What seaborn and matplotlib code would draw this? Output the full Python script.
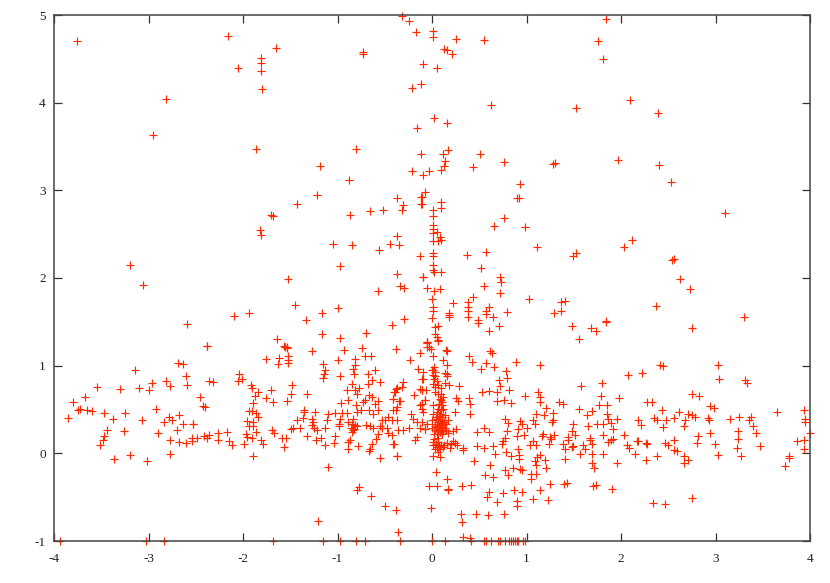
import pandas as pd
import matplotlib
matplotlib.use('Agg')
import matplotlib.pyplot as plt
import seaborn as sns

# valores, por regiao
top_points = [(-3.76,4.70),(-2.16,4.76),(-2.05,4.39),(-1.81,4.51),(-1.81,4.45),(-1.81,4.36),(-1.80,4.16),(-1.65,4.62),
    (-0.73,4.58),(-0.73,4.55),(-0.32,4.99),(-0.24,4.93),(-0.17,4.81),(0.01,4.82),(0.01,4.75),(0.25,4.73),(0.55,4.71),
    (0.13,4.61),(0.16,4.60),(0.21,4.55),(-0.10,4.44),(0.05,4.40),(-0.21,4.17),(-0.12,4.21),(1.84,4.95),(1.76,4.70),
    (1.81,4.50),(2.10,4.03),(2.39,3.88),(1.52,3.94),(0.62,3.97),(-2.81,4.04),(-2.95,3.63),(-1.86,3.47),(-0.80,3.47),
    (-0.16,3.71),(0.02,3.82),(0.16,3.77),(-1.19,3.28),(-0.88,3.12),(-0.12,3.41),(0.12,3.42),(0.17,3.46),(0.51,3.42),
    (0.76,3.32),(1.30,3.31),(1.28,3.30),(1.97,3.35),(2.40,3.29),(2.53,3.09),(0.93,3.07),(0.92,2.91),(-0.21,3.22),
    (-0.10,3.18),(-0.03,3.22),(0.10,3.23),(0.13,3.28),(0.14,3.34),(0.43,3.27),(3.10,2.74),(2.54,2.21),(2.56,2.22),
    (2.62,1.99),(2.73,1.87),(2.37,1.68),(2.75,1.43),(3.30,1.56),(1.84,1.51),(-3.20,2.15),(-3.06,1.92),(-2.59,1.47)]

upper_left = [(-1.213,2.95),(-1.429,2.846),(-1.704,2.717),(-1.679,2.705),(-1.82,2.553),(-1.813,2.496),(-0.871,2.713),
    (-0.66,2.766),(-0.515,2.778),(-0.374,2.907),(-0.31,2.83),(-0.32,2.78),(-0.12,2.926),(-0.12,2.842),(-0.074,2.983),
    (-0.374,2.48),(-1.044,2.393),(-0.85,2.382),(-0.441,2.389),(-0.349,2.374),(-0.561,2.317),(-0.127,2.249),(-0.973,2.134),
    (-0.374,2.05),(-0.10,2.013),(-1.524,1.99),(-0.339,1.91),(-0.296,1.887),(-0.056,1.891),(-0.575,1.857),(-1.446,1.693),
    (-0.998,1.659),(-2.10,1.567),(-1.94,1.605),(-1.333,1.518),(-1.16,1.602),(-0.296,1.537),(-0.42,1.461),(-0.70,1.373),
    (-1.16,1.362),(-0.977,1.32),(-1.64,1.30),(-1.563,1.22),(-1.53,1.214),(-2.377,1.22),(-0.056,1.27),(-0.056,1.21)]

upper_right = [(0.896,2.907),(0.765,2.69),(0.656,2.591),(0.981,2.583),(1.108,2.355),(2.028,2.355),(2.12,2.431),(1.524,2.29),
    (1.492,2.249),(0.367,2.268),(0.568,2.298),(0.518,2.11),(0.723,2.013),(0.727,1.955),(0.55,1.91),(0.72,1.834),(1.026,1.762),
    (0.437,1.784),(0.607,1.674),(0.219,1.716),(0.384,1.723),(0.384,1.67),(0.384,1.624),(0.377,1.556),(0.183,1.605),(0.183,1.583),
    (0.183,1.556),(0.568,1.624),(0.568,1.594),(0.645,1.556),(0.797,1.61),(0.487,1.526),(0.487,1.488),(0.6,1.40),(0.712,1.45),
    (1.362,1.727),(1.407,1.735),(1.287,1.605),(1.362,1.625),(1.481,1.45),(1.552,1.301),(1.686,1.43),(1.732,1.396),(1.838,1.495),
    (0.092,2.869),(0.092,2.804),(0.014,2.774),(0.014,2.705),(-0.11,2.926),(-0.11,2.842),(0.014,2.6),(0.014,2.564),(0.014,2.515),
    (0.05,2.526),(0.085,2.47),(0.014,2.424),(0.067,2.424),(0.092,2.431),(0.014,2.29),(0.014,2.249),(0.014,2.146),(0.014,2.096),
    (0.02,2.07),(0.092,2.07),(-0.099,2.013),(0.085,1.88),(0.02,1.85),(-0.004,1.758),(0.007,1.67),(0.007,1.624),(-0.004,1.548),
    (0.032,1.442),(0.067,1.45),(0.032,1.358),(0.05,1.328),(0.067,1.29),(-0.05,1.27),(-0.028,1.214),(0.148,1.183)]

far_left = [(-2.377,1.22),(-2.69,1.03),(-2.63,1.02),(-3.146,0.95),(-2.60,0.88),(-3.54,0.753),(-3.30,0.734),(-3.10,0.742),
    (-2.96,0.80),(-3.00,0.72),(-2.81,0.82),(-2.77,0.77),(-2.59,0.78),(-2.36,0.83),(-2.32,0.81),(-2.04,0.90),(-2.05,0.83),
    (-2.01,0.845),(-3.67,0.647),(-3.80,0.58),(-2.45,0.643),(-2.42,0.54),(-2.40,0.533),(-3.72,0.51),(-3.75,0.495),(-3.65,0.50),
    (-3.60,0.483),(-3.47,0.46),(-3.25,0.457),(-2.92,0.51),(-3.85,0.40),(-3.375,0.39),(-3.065,0.377),(-2.78,0.415),(-2.68,0.44),
    (-2.836,0.354),(-2.75,0.377),(-2.64,0.33),(-2.525,0.34),(-2.525,0.33),(-2.70,0.27),(-3.44,0.27),(-3.26,0.26),(-3.47,0.194),
    (-3.48,0.156),(-3.51,0.10),(-2.90,0.232),(-2.77,0.156),(-2.68,0.13),(-2.60,0.118),(-2.536,0.137),(-2.54,0.175),(-2.486,0.18),
    (-2.41,0.198),(-2.356,0.206),(-2.38,0.18),(-2.26,0.228),(-2.26,0.156),(-2.17,0.243),(-2.15,0.137),(-2.12,0.09),(-1.99,0.103),
    (-3.36,-0.07),(-3.20,-0.02),(-3.02,-0.084),(-2.77,-0.008)]

mid_left = [(-1.555,1.21),(-1.53,1.206),(-1.27,1.17),(-0.93,1.176),(-0.737,1.206),(-0.385,1.187),(-1.753,1.08),(-1.62,1.09),
    (-1.63,1.02),(-1.527,1.11),(-1.527,1.07),(-1.527,1.03),(-0.709,1.11),(-0.649,1.107),(-0.81,1.08),(-0.99,1.07),(-1.153,1.016),
    (-1.13,0.948),(-1.14,0.91),(-1.15,0.864),(-0.815,1.005),(-0.84,0.967),(-0.607,0.955),(-0.97,0.887),(-0.83,0.90),(-0.674,0.90),
    (-0.64,0.833),(-0.55,0.814),(-0.674,0.795),(-1.919,0.776),(-1.90,0.75),(-1.485,0.78),(-1.707,0.727),(-1.838,0.70),(-1.873,0.65),
    (-1.76,0.635),(-1.49,0.674),(-1.326,0.677),(-1.686,0.582),(-1.53,0.60),(-1.898,0.575),(-0.843,0.788),(-0.90,0.72),(-0.815,0.727),
    (-0.776,0.75),(-0.797,0.68),(-0.885,0.613),(-0.966,0.575),(-0.667,0.67),(-0.64,0.643),(-0.727,0.586),(-0.713,0.613),(-0.575,0.594),
    (-0.60,0.567),(-0.39,0.70),(-0.374,0.746),(-0.41,0.624),(-0.34,0.60),(-0.374,0.53),(-0.41,0.50),(-0.808,0.548),(-0.755,0.50),
    (-0.797,0.468),(-0.667,0.49),(-0.575,0.50),(-0.62,0.445),(-0.90,0.46),(-0.95,0.46),(-1.097,0.453),(-1.026,0.46),(-1.238,0.468),
    (-1.35,0.50),(-1.35,0.472),(-1.908,0.483),(-1.933,0.48),(-1.838,0.42),(-1.862,0.46),(-1.96,0.37),(-1.89,0.358),(-1.937,0.308),
    (-1.89,0.308),(-1.866,0.244),(-1.972,0.225),(-1.954,0.186),(-1.908,0.175),(-1.813,0.156),(-1.792,0.11),(-1.898,-0.034),
    (-1.69,0.263),(-1.672,0.232),(-1.59,0.18),(-1.545,0.17),(-1.566,0.072),(-1.467,0.285),(-1.495,0.278),(-1.397,0.293),(-1.425,0.384),
    (-1.36,0.407),(-1.273,0.396),(-1.263,0.358),(-1.273,0.32),(-1.245,0.293),(-1.213,0.263),(-1.115,0.377),(-1.133,0.293),(-1.319,0.194),
    (-1.231,0.148),(-1.178,0.18),(-1.026,0.194),(-1.033,0.118),(-1.129,0.09),(-0.98,0.34),(-0.988,0.308),(-0.973,0.396),(-0.885,0.358),
    (-0.832,0.396),(-0.85,0.34),(-0.815,0.32),(-0.86,0.293),(-0.832,0.27),(-0.85,0.244),(-0.825,0.28),(-0.797,0.308),(-0.70,0.32),
    (-0.656,0.308),(-0.62,0.293),(-0.55,0.308),(-0.533,0.384),(-0.497,0.377),(-0.462,0.415),(-0.427,0.384),(-0.374,0.377),(-0.533,0.293),
    (-0.48,0.293),(-0.462,0.232),(-0.427,0.206),(-0.568,0.225),(-0.593,0.168),(-0.41,0.11),(-0.868,0.148),(-0.885,0.13),(-0.889,0.053),
    (-0.78,0.084),(-0.656,0.053),(-0.663,0.023),(-0.638,0.103),(-0.55,-0.057),(-0.374,-0.03),(-1.10,-0.16),(-0.776,-0.384),(-0.794,-0.42),
    (-0.646,-0.49),(-0.494,-0.597),(-0.377,-0.647),(-1.21,-0.77),(-0.356,-0.894)]

near_center = [(-0.233,1.06),(-0.145,0.966),(-0.11,0.852),(-0.19,0.662),(-0.127,0.738),(-0.11,0.72),(-0.064,0.72),(-0.075,0.605),
    (-0.127,0.548),(-0.11,0.51),(-0.226,0.445),(-0.205,0.396),(-0.163,0.358),(-0.24,0.293),(-0.127,0.293),(-0.075,0.282),(-0.156,0.187),
    (-0.18,0.156),(-0.304,0.814),(-0.32,0.757),(-0.382,0.738),(-0.40,0.70),(-0.41,0.624),(-0.346,0.594),(-0.382,0.49),(-0.357,0.263),
    (-0.31,0.27),(-0.40,0.11),(-0.367,-0.03)]

core = [(-0.05,1.26),(-0.01,1.195),(0.067,1.28),(0.155,1.164),(-0.127,1.145),(0.014,1.107),(0.12,1.07),(0.155,1.005),(0.02,0.986),
    (-0.003,0.948),(0.032,0.93),(0.014,0.89),(0.155,0.91),(0.138,0.921),(0.162,0.879),(-0.099,0.93),(-0.092,0.852),(0.02,0.852),
    (0.014,0.795),(0.032,0.757),(0.138,0.803),(0.18,0.776),(-0.11,0.727),(0.032,0.70),(0.067,0.681),(0.12,0.643),(0.092,0.605),
    (-0.074,0.605),(-0.11,0.567),(0.014,0.548),(0.102,0.548),(0.067,0.51),(0.12,0.51),(-0.092,0.472),(0.014,0.453),(0.085,0.453),
    (0.138,0.434),(0.05,0.396),(0.102,0.384),(0.173,0.377),(-0.004,0.377),(-0.11,0.358),(-0.056,0.339),(0.032,0.339),(0.067,0.339),
    (0.085,0.32),(0.12,0.339),(0.102,0.293),(0.067,0.282),(0.138,0.293),(0.032,0.27),(0.085,0.255),(0.12,0.255),(0.173,0.232),
    (0.05,0.225),(0.102,0.225),(-0.074,0.282),(0.014,0.13),(0.067,0.13),(0.014,0.09),(0.05,0.072),(0.085,0.053),(0.12,0.072),
    (0.19,0.065),(0.243,0.118),(0.261,0.09),(0.325,0.065),(0.332,0.034),(0.014,-0.034),(0.085,-0.042),(0.067,0.015),
    (0.01,0.95),(0.03,0.88),(0.05,0.83),(0.06,0.78),(0.09,0.74),(0.10,0.68),(0.08,0.62),(0.11,0.58),(0.07,0.56),(0.09,0.49),
    (0.05,0.47),(0.07,0.43),(0.11,0.41),(0.04,0.42),(0.08,0.38),(0.06,0.36),(0.10,0.35),(0.03,0.31),(0.05,0.30),(0.07,0.31),
    (0.09,0.29),(0.11,0.30),(0.06,0.26),(0.08,0.24),(0.10,0.27),(0.13,0.36),(0.15,0.33),(0.00,0.29),(0.02,0.22),(0.15,0.27),
    (0.04,0.11),(0.07,0.08),(0.03,0.05),(0.10,0.10),(0.02,0.16),(0.06,0.17),(0.13,0.10),(0.16,0.12),(0.20,0.11),(0.22,0.14)]

mid_right = [(0.395,1.11),(0.614,1.168),(0.635,1.145),(0.423,1.04),(0.568,1.035),(0.656,0.986),(0.518,0.963),(0.889,1.046),(1.146,1.008),
    (0.78,0.936),(0.79,0.86),(0.713,0.833),(0.286,0.772),(0.72,0.765),(0.69,0.70),(0.811,0.72),(0.533,0.696),(0.603,0.71),(0.988,0.65),
    (1.118,0.696),(1.143,0.643),(1.146,0.59),(1.58,0.772),(1.795,0.803),(1.788,0.658),(1.767,0.555),(1.848,0.548),(1.979,0.635),
    (0.388,0.635),(0.402,0.567),(0.254,0.635),(0.279,0.594),(0.684,0.594),(0.765,0.613),(0.832,0.575),(1.203,0.518),(1.347,0.582),
    (1.383,0.567),(1.552,0.502),(1.69,0.48),(1.637,0.434),(1.848,0.453),(0.402,0.453),(0.243,0.468),(1.097,0.453),(1.185,0.438),
    (1.284,0.464),(1.072,0.377),(1.09,0.33),(1.284,0.377),(1.266,0.358),(0.772,0.396),(0.808,0.346),(0.931,0.365),(0.949,0.339),
    (1.009,0.29),(0.914,0.282),(0.554,0.293),(0.603,0.24),(0.476,0.24),(0.254,0.282),(0.219,0.255),(0.79,0.255),(0.772,0.175),
    (0.903,0.194),(0.977,0.206),(1.178,0.225),(1.167,0.198),(1.249,0.187),(1.295,0.206),(1.259,0.168),(1.238,0.103),(1.072,0.137),
    (1.037,0.10),(1.097,0.10),(1.495,0.33),(1.478,0.255),(1.647,0.312),(1.75,0.339),(1.813,0.331),(1.866,0.396),(1.89,0.346),
    (1.954,0.388),(1.912,0.278),(1.806,0.206),(1.89,0.148),(1.866,0.13),(1.919,0.164),(1.672,0.179),(1.672,0.148),(1.443,0.187),
    (1.513,0.206),(1.443,0.148),(1.39,0.11),(1.407,0.053),(1.478,0.072),(1.495,0.08),(1.60,0.10),(1.619,0.046),(1.69,0.103),
    (1.566,-0.004),(1.69,-0.004),(1.806,-0.011),(1.404,-0.06),(1.69,-0.11),(1.718,-0.167),(1.954,-0.107),(0.755,0.137),(0.737,0.103),
    (0.645,0.08),(0.48,0.08),(0.554,0.065),(0.663,-0.004),(0.783,0.015),(0.84,-0.034),(0.914,0.053),(0.924,-0.015),(0.924,-0.068),
    (1.108,-0.042),(1.143,-0.023),(1.196,-0.08),(1.09,-0.087),(1.097,-0.137),(1.206,-0.163),(0.448,-0.09),(0.617,-0.133),(0.86,-0.163),
    (0.931,-0.175),(0.956,-0.186),(0.776,-0.194),(0.80,-0.251),(0.564,-0.247),(0.649,-0.27),(1.048,-0.232),(1.097,-0.232),(1.044,-0.289),
    (1.252,-0.354),(1.397,-0.346),(1.425,-0.335),(1.707,-0.373),(1.732,-0.358),(1.90,-0.41),(0.603,-0.445),(0.578,-0.498),(0.748,-0.457),
    (0.871,-0.422),(0.956,-0.441),(1.146,-0.422),(1.072,-0.517),(1.231,-0.536),(0.688,-0.556),(0.896,-0.548),(0.896,-0.60),(0.039,-0.209),
    (0.162,-0.289),(-0.028,-0.377),(0.05,-0.377),(0.173,-0.422),(0.165,-0.41),(0.314,-0.373),(0.413,-0.361),(-0.011,-0.624),(0.303,-0.689),
    (0.466,-0.689),(0.596,-0.704),(0.758,-0.696),(0.314,-0.788),(0.332,-0.955),(0.402,-0.963)]

far_right = [(2.413,1.005),(2.448,0.993),(2.078,0.89),(2.223,0.921),(3.03,1.012),(3.037,0.845),(3.313,0.833),(3.337,0.807),(2.748,0.681),
    (2.829,0.655),(2.279,0.586),(2.332,0.582),(2.438,0.498),(2.618,0.468),(2.942,0.54),(2.988,0.514),(2.713,0.453),(2.748,0.434),
    (2.787,0.415),(2.353,0.407),(2.381,0.377),(2.477,0.384),(2.561,0.407),(2.678,0.377),(2.667,0.308),(2.184,0.384),(2.209,0.327),
    (2.441,0.30),(2.918,0.407),(2.932,0.384),(3.154,0.388),(3.253,0.415),(3.376,0.415),(3.358,0.384),(3.394,0.316),(3.425,0.232),
    (3.242,0.255),(3.238,0.16),(3.224,0.061),(3.267,-0.03),(3.471,0.08),(3.648,0.472),(3.94,0.495),(3.951,0.396),(3.951,0.354),
    (4.0,0.232),(3.937,0.156),(3.859,0.141),(3.937,0.053),(3.778,-0.03),(3.775,-0.05),(3.732,-0.148),(2.942,0.232),(2.819,0.194),
    (2.808,0.118),(2.565,0.148),(2.466,0.118),(2.494,0.10),(2.561,0.042),(2.589,0.023),(2.995,0.11),(3.03,-0.015),(2.667,-0.034),
    (2.713,-0.08),(2.667,-0.107),(2.378,-0.03),(2.268,-0.08),(2.152,-0.011),(2.036,0.213),(2.067,0.10),(2.089,0.065),(2.184,0.141),
    (2.166,0.137),(2.265,0.12),(2.28,0.11),(2.335,-0.563),(2.47,-0.575),(2.748,-0.51)]

# pontos sobre a borda inferior (y = -1)
clipped_x = [-3.94,-3.03,-2.84,-1.68,-1.15,-0.97,-0.80,-0.71,-0.34,0.0,0.14,0.41,0.55,0.57,0.62,0.70,0.72,0.77,0.815,
    0.836,0.86,0.88,0.895,0.91,0.965,0.985]

x_ticks = [-4,-3,-2,-1,0,1,2,3,4]
y_ticks = [-1,0,1,2,3,4,5]

pontos = top_points + upper_left + upper_right + far_left + mid_left + near_center + core + mid_right + far_right
df = pd.DataFrame(pontos, columns=['x', 'y'])
df_base = pd.DataFrame({'x': clipped_x, 'y': [-1] * len(clipped_x)})
df = pd.concat([df, df_base], ignore_index=True)

sns.set_style('ticks')
plt.rcParams['font.family'] = ['Liberation Serif', 'DejaVu Serif']
plt.rcParams['axes.unicode_minus'] = False  # hifen simples nos rotulos

fig = plt.figure(figsize=(8.3, 5.83), dpi=100)
ax = fig.add_axes([54 / 830, 1 - 541 / 583, 756 / 830, 526 / 583])

sns.scatterplot(data=df, x='x', y='y', marker='+', color='#ff2a00', s=40, linewidth=0.85, ax=ax,
                zorder=2, clip_on=False)

ax.set_xlim(-4, 4)
ax.set_ylim(-1, 5)
ax.set_xticks(x_ticks)
ax.set_yticks(y_ticks)
ax.set_xlabel('')
ax.set_ylabel('')
ax.tick_params(direction='in', length=5.5, width=0.9, color='#333333', labelsize=9.5,
               top=True, right=True, labelcolor='#222222')
ax.tick_params(axis='x', pad=9)
ax.tick_params(axis='y', pad=6)
for lado in ax.spines.values():
    lado.set_linewidth(1.1)
    lado.set_color('#444444')
    lado.set_zorder(3)

fig.savefig('out.png', dpi=100, facecolor='white')
